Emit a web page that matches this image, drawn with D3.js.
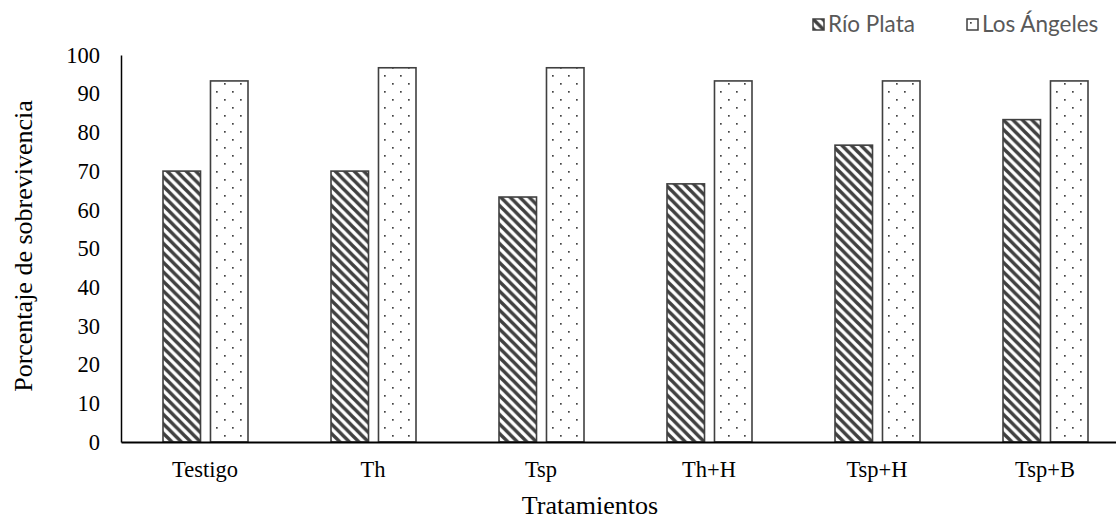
<!DOCTYPE html>
<html>
<head>
<meta charset="utf-8">
<script src="https://cdn.jsdelivr.net/npm/d3@7"></script>
<style>
  body { margin: 0; background: #fff; }
  svg { display: block; }
</style>
</head>
<body>
<svg id="chart" width="1116" height="522"></svg>
<script>
const categories = ['Testigo', 'Th', 'Tsp', 'Th+H', 'Tsp+H', 'Tsp+B'];
const series = ['Río Plata', 'Los Ángeles'];
const rioPlata = [70, 70, 63.3, 66.7, 76.7, 83.3];
const losAngeles = [93.3, 96.7, 96.7, 93.3, 93.3, 93.3];
const yTicks = [0, 10, 20, 30, 40, 50, 60, 70, 80, 90, 100];

const values = { 'Río Plata': rioPlata, 'Los Ángeles': losAngeles };
const fills = { 'Río Plata': 'url(#stripes)', 'Los Ángeles': 'url(#dots)' };
const dark = '#404040';
const serif = "'Liberation Serif', 'Times New Roman', serif";

const svg = d3.select('#chart');

// patterns
const defs = svg.append('defs');
const stripes = defs.append('pattern')
  .attr('id', 'stripes')
  .attr('patternUnits', 'userSpaceOnUse')
  .attr('width', 9.5).attr('height', 9.5);
stripes.append('rect').attr('width', 9.5).attr('height', 9.5).attr('fill', '#fff');
stripes.append('path')
  .attr('d', 'M-3,-3 L12.5,12.5 M-3,6.5 L3,12.5 M6.5,-3 L12.5,3')
  .attr('stroke', dark).attr('stroke-width', 3.5);

const dots = defs.append('pattern')
  .attr('id', 'dots')
  .attr('patternUnits', 'userSpaceOnUse')
  .attr('width', 16).attr('height', 16);
dots.append('rect').attr('width', 16).attr('height', 16).attr('fill', '#fff');
dots.append('rect').attr('x', 3).attr('y', 3).attr('width', 1.7).attr('height', 1.7).attr('fill', '#444');
dots.append('rect').attr('x', 11).attr('y', 11).attr('width', 1.7).attr('height', 1.7).attr('fill', '#444');

const plotLeft = 121, plotTop = 55, plotBottom = 442, plotRight = 1129;

const x0 = d3.scaleBand().domain(categories).range([plotLeft, plotRight]);
const x1 = d3.scaleBand().domain(series).range([-42, 43]).paddingInner(0.21);
const y = d3.scaleLinear().domain([0, 100]).range([plotBottom, plotTop]);

// bars
const groups = svg.selectAll('.group')
  .data(categories)
  .enter()
  .append('g')
  .attr('class', 'group')
  .attr('transform', (d) => 'translate(' + (x0(d) + x0.bandwidth() / 2) + ',0)');

groups.selectAll('rect')
  .data((d, i) => series.map((s) => ({ s: s, v: values[s][i] })))
  .enter()
  .append('rect')
  .attr('x', (d) => x1(d.s))
  .attr('y', (d) => y(d.v))
  .attr('width', x1.bandwidth())
  .attr('height', (d) => plotBottom - y(d.v))
  .attr('fill', (d) => fills[d.s])
  .attr('stroke', dark)
  .attr('stroke-width', 1.6);

// y axis
const yAxis = svg.append('g')
  .attr('transform', 'translate(' + plotLeft + ',0)')
  .call(d3.axisLeft(y).tickValues(yTicks).tickSize(0).tickPadding(21));
yAxis.select('.domain').attr('stroke', '#000').attr('stroke-width', 1.5);
yAxis.selectAll('text')
  .attr('font-family', serif).attr('font-size', 22.5).attr('fill', '#000');

// x axis
const xAxis = svg.append('g')
  .attr('transform', 'translate(0,' + plotBottom + ')')
  .call(d3.axisBottom(x0).tickSize(0).tickPadding(19));
xAxis.select('.domain').attr('stroke', '#000').attr('stroke-width', 2);
xAxis.selectAll('text')
  .attr('font-family', serif).attr('font-size', 22.5).attr('fill', '#000');

// axis titles
svg.append('text')
  .attr('transform', 'translate(32,246) rotate(-90)')
  .attr('text-anchor', 'middle')
  .attr('font-family', serif).attr('font-size', 26)
  .text('Porcentaje de sobrevivencia');

svg.append('text')
  .attr('x', 590).attr('y', 514)
  .attr('text-anchor', 'middle')
  .attr('font-family', serif).attr('font-size', 26)
  .text('Tratamientos');

// legend
const legendX = [813, 967];
const legend = svg.selectAll('.legend')
  .data(series)
  .enter()
  .append('g')
  .attr('class', 'legend')
  .attr('transform', (d, i) => 'translate(' + legendX[i] + ',19)');
legend.append('rect')
  .attr('width', 11).attr('height', 11)
  .attr('fill', (d) => fills[d])
  .attr('stroke', dark).attr('stroke-width', 1.5);
legend.append('text')
  .attr('x', 15).attr('y', 13)
  .attr('font-family', "Lato, 'Open Sans', sans-serif")
  .attr('font-size', 22.5).attr('fill', '#595959')
  .text((d) => d);
</script>
</body>
</html>
